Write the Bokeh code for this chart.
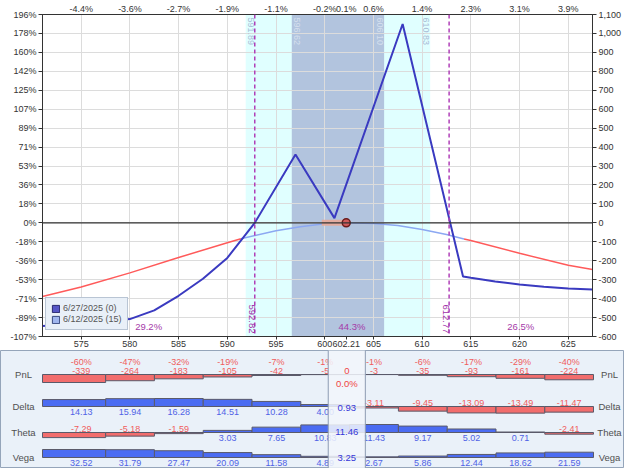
import math
from bokeh.plotting import figure
from bokeh.models import (Range1d, LinearAxis, FixedTicker, NumeralTickFormatter,
                          BoxAnnotation, Span, Label, Legend, LegendItem, ColumnDataSource)
from bokeh.layouts import column
from bokeh.embed import file_html
from bokeh.resources import INLINE
from bokeh.core.properties import value

FONT = "Liberation Sans"
FS = "9px"

# ---------------- data ----------------
x_min, x_max = 571.03, 627.49
y_min, y_max = -600, 1100
price = 602.21
prev_price = 599.7

x_ticks = [575, 580, 585, 590, 595, 600, 605, 610, 615, 620, 625]
top_tick_labels = ["-4.4%", "-3.6%", "-2.7%", "-1.9%", "-1.1%", "-0.2%", "0.6%", "1.4%", "2.3%", "3.1%", "3.9%"]
y_ticks = [-600, -500, -400, -300, -200, -100, 0, 100, 200, 300, 400, 500, 600, 700, 800, 900, 1000, 1100]
left_tick_labels = ["-107%", "-89%", "-71%", "-53%", "-36%", "-18%", "0%", "18%", "36%", "53%",
                    "71%", "89%", "107%", "125%", "142%", "160%", "178%", "196%"]
top_price_label = "0.1%"

# expiration curve (6/27/2025)
exp_label = "6/27/2025 (0)"
exp_x = [571.03, 575, 580, 582.5, 585, 587.5, 590, 592.82, 597.0, 601.0, 608.0, 614.2, 615, 617.5, 620, 622.5, 625, 627.49]
exp_y = [-545, -533, -508, -462, -385, -295, -185, 0, 361, 25, 1050, -283, -290, -310, -325, -337, -346, -352]

# T+0 curve (6/12/2025)
t_label = "6/12/2025 (15)"
t_left_x = [571.03, 575, 580, 585, 590, 591.4]
t_left_y = [-389, -339, -264, -183, -105, -84]
t_mid_x = [591.4, 595, 597.5, 600, 602.21, 605, 607.5, 610, 612.5, 614.3]
t_mid_y = [-84, -42, -20, -5, 0, -3, -14, -35, -62, -85]
t_right_x = [614.3, 615, 620, 625, 627.49]
t_right_y = [-85, -93, -161, -224, -246]

outer_band = [591.89, 610.83]
inner_band = [596.62, 606.10]
breakevens = [592.82, 612.77]
probs = ["29.2%", "44.3%", "26.5%"]

# table
cols = x_ticks
pnl = [-339, -264, -183, -105, -42, -5, -3, -35, -93, -161, -224]
pnl_pct = ["-60%", "-47%", "-32%", "-19%", "-7%", "-1%", "-1%", "-6%", "-17%", "-29%", "-40%"]
delta = [14.13, 15.94, 16.28, 14.51, 10.28, 4.00, -3.11, -9.45, -13.09, -13.49, -11.47]
theta = [-7.29, -5.18, -1.59, 3.03, 7.65, 10.83, 11.43, 9.17, 5.02, 0.71, -2.41]
vega = [32.52, 31.79, 27.47, 20.09, 11.58, 4.89, 2.67, 5.86, 12.44, 18.62, 21.59]
cur_pnl, cur_pct, cur_delta, cur_theta, cur_vega = "0", "0.0%", "0.93", "11.46", "3.25"

# ---------------- main chart ----------------
W, H1, H2 = 624, 350, 118
BL, BR = 42, 31
PANEL = "#eaf1f9"

p = figure(width=W, height=H1, x_range=Range1d(x_min, x_max), y_range=Range1d(y_min, y_max),
           output_backend="svg", toolbar_location=None,
           min_border_left=BL, min_border_right=BR, min_border_top=14, min_border_bottom=14)
p.background_fill_color = "white"
p.border_fill_color = "white"
p.outline_line_color = "#333333"
p.frame_align = False


def style_axis(ax, tick_out=3, standoff=2):
    ax.axis_line_color = "#333333"
    ax.major_tick_line_color = "#333333"
    ax.major_tick_out = tick_out
    ax.major_tick_in = 0
    ax.minor_tick_line_color = None
    ax.major_label_text_font = FONT
    ax.major_label_text_font_size = FS
    ax.major_label_text_color = "#333333"
    ax.major_label_standoff = standoff


bax = p.below[0]
bax.ticker = FixedTicker(ticks=x_ticks + [price])
bax.major_label_overrides = {price: f"{price:.2f}"}
style_axis(bax, 3, 1)
lax = p.left[0]
lax.ticker = FixedTicker(ticks=y_ticks)
lax.major_label_overrides = dict(zip(y_ticks, left_tick_labels))
style_axis(lax, 4, 2)

rax = LinearAxis(ticker=FixedTicker(ticks=y_ticks), formatter=NumeralTickFormatter(format="0,0"))
style_axis(rax, 4, 2)
p.add_layout(rax, "right")
top_over = dict(zip(x_ticks, top_tick_labels))
top_over[price] = top_price_label
tax = LinearAxis(ticker=FixedTicker(ticks=x_ticks + [price]), major_label_overrides=top_over)
style_axis(tax, 0, 1)
p.add_layout(tax, "above")

p.xgrid.ticker = FixedTicker(ticks=x_ticks)
p.ygrid.ticker = FixedTicker(ticks=y_ticks)
p.grid.grid_line_color = "#dcdcdc"
p.grid.grid_line_width = 1

p.add_layout(BoxAnnotation(left=outer_band[0], right=outer_band[1], fill_color="#e0ffff",
                           fill_alpha=1, line_color=None, level="image"))
p.add_layout(BoxAnnotation(left=inner_band[0], right=inner_band[1], fill_color="#b2c4de",
                           fill_alpha=1, line_color=None, level="image"))

for xv, off, col in [(outer_band[0], 5, "#a9bcd6"), (inner_band[0], 5, "#d6e0ee"),
                     (inner_band[1], -4, "#d6e0ee"), (outer_band[1], -4, "#a9bcd6")]:
    p.add_layout(Label(x=xv, y=y_max, x_offset=off, y_offset=-3, text=f"{xv:.2f}",
                       angle=-math.pi / 2, text_align="left", text_baseline="middle",
                       text_font=FONT, text_font_size="9px", text_color=col))

for b in breakevens:
    p.add_layout(Span(location=b, dimension="height", line_color="#b040b8", line_width=1.5,
                      line_dash="4 3"))
    p.add_layout(Label(x=b, y=3, y_units="screen", x_offset=-3, text=f"{b:.2f}",
                       angle=-math.pi / 2, text_align="right", text_baseline="middle",
                       text_font=FONT, text_font_size="9.5px", text_color="#a030a8"))

mids = [(x_min + breakevens[0]) / 2, (breakevens[0] + breakevens[1]) / 2, (breakevens[1] + x_max) / 2]
for m, t in zip(mids, probs):
    p.add_layout(Label(x=m, y=10, y_units="screen", text=t, text_align="center",
                       text_baseline="middle", text_font=FONT, text_font_size="9.5px",
                       text_color="#a53aa8"))

p.add_layout(Span(location=0, dimension="width", line_color="#333333", line_width=1.2))

p.line(t_left_x, t_left_y, line_color="#ff5a5a", line_width=1.5)
p.line(t_right_x, t_right_y, line_color="#ff5a5a", line_width=1.5)
p.line(t_mid_x, t_mid_y, line_color="#8ca8f2", line_width=1.5)
p.line(exp_x, exp_y, line_color="#3a3ac0", line_width=2)

p.segment(x0=[prev_price], y0=[0], x1=[price], y1=[0], line_color="#e8a898", line_width=6, line_alpha=0.9)
p.scatter([price], [0], marker="circle", size=8, fill_color="#d05a5a", line_color="#6a1a1a", line_width=1.5)

# legend swatches (off-screen quads, only their legend glyphs show)
r_a = p.quad(left=[-2e6], right=[-1e6], top=[-1e6], bottom=[-2e6], fill_color="#5656c6", line_color="#2a2a70")
r_b = p.quad(left=[-2e6], right=[-1e6], top=[-1e6], bottom=[-2e6], fill_color="#a0b6ee", line_color="#3a4a80")
legend = Legend(items=[LegendItem(label=exp_label, renderers=[r_a]),
                       LegendItem(label=t_label, renderers=[r_b])],
                location=(3, 6), label_text_font=FONT, label_text_font_size="9px",
                label_text_color="#555555", glyph_width=9, glyph_height=9, label_height=10,
                spacing=1, padding=5, margin=0, label_standoff=3,
                background_fill_color="#e9f0f8", background_fill_alpha=1,
                border_line_color="#8a9ab0")
p.add_layout(legend)

# ---------------- bottom table ----------------
scale = (W - BL - BR) / (x_max - x_min)
p2 = figure(width=W, height=H2, x_range=Range1d(x_min - BL / scale, x_max + BR / scale),
            y_range=Range1d(H2, 0), x_axis_location=None, y_axis_location=None,
            min_border=0, toolbar_location=None, output_backend="svg")
p2.frame_align = False
p2.grid.visible = False
p2.background_fill_color = PANEL
p2.border_fill_color = PANEL
p2.outline_line_color = "#95a5ba"

lefts = [x_min] + [(a + b) / 2 for a, b in zip(cols[:-1], cols[1:])]
rights = lefts[1:] + [x_max]

rows = [("PnL", pnl, 24), ("Delta", delta, 56), ("Theta", theta, 82), ("Vega", vega, 107)]
BLUE, RED = "#4b6cf2", "#f26d6d"
TBLUE, TRED = "#4f62e6", "#f05c5c"
bar = dict(left=[], right=[], top=[], bottom=[], color=[])
txt = dict(x=[], y=[], text=[], color=[])
for name, vals, base in rows:
    m = max(abs(v) for v in vals)
    for i, v in enumerate(vals):
        h = abs(v) / m * 8
        bar["left"].append(lefts[i]); bar["right"].append(rights[i])
        if v >= 0:
            bar["top"].append(base - h); bar["bottom"].append(base); bar["color"].append(BLUE)
        else:
            bar["top"].append(base); bar["bottom"].append(base + h); bar["color"].append(RED)
        lab = f"{v:.0f}" if name == "PnL" else f"{v:.2f}"
        txt["x"].append(cols[i])
        if v >= 0:
            txt["y"].append(base + 5.5); txt["color"].append(TBLUE)
        else:
            txt["y"].append(base - 4); txt["color"].append(TRED)
        txt["text"].append(lab)
        if name == "PnL":
            txt["x"].append(cols[i]); txt["y"].append(base - 13)
            txt["text"].append(pnl_pct[i]); txt["color"].append(TRED)
    for sx in (23, 609):
        p2.add_layout(Label(x=sx, x_units="screen", y=base, text=name, text_align="center",
                            text_baseline="middle", text_font=FONT, text_font_size="9.5px",
                            text_color="#505050"))

p2.quad(left="left", right="right", top="top", bottom="bottom", fill_color="color",
        line_color="#5a5a6a", line_width=1, source=ColumnDataSource(bar))
p2.text(x="x", y="y", text="text", text_color="color", text_font=value(FONT),
        text_font_size="9px", text_align="center", text_baseline="middle",
        source=ColumnDataSource(txt))

p2.quad(left=[price - 1.9], right=[price + 1.9], top=[-5], bottom=[H2 + 5],
        fill_color="#f2f6fb", fill_alpha=0.85, line_color="#8d9cb3", line_width=1)
cur = dict(x=[price] * 5, y=[20.7, 32.7, 57.3, 81, 107.7],
           text=[cur_pnl, cur_pct, cur_delta, cur_theta, cur_vega],
           color=["#f04545", "#f04545", "#3535d8", "#3535d8", "#3535d8"])
p2.text(x="x", y="y", text="text", text_color="color", text_font=value(FONT),
        text_font_size="9.5px", text_align="center", text_baseline="middle",
        source=ColumnDataSource(cur))

layout = column(p, p2)
open("out.html", "w").write(file_html(layout, INLINE))
